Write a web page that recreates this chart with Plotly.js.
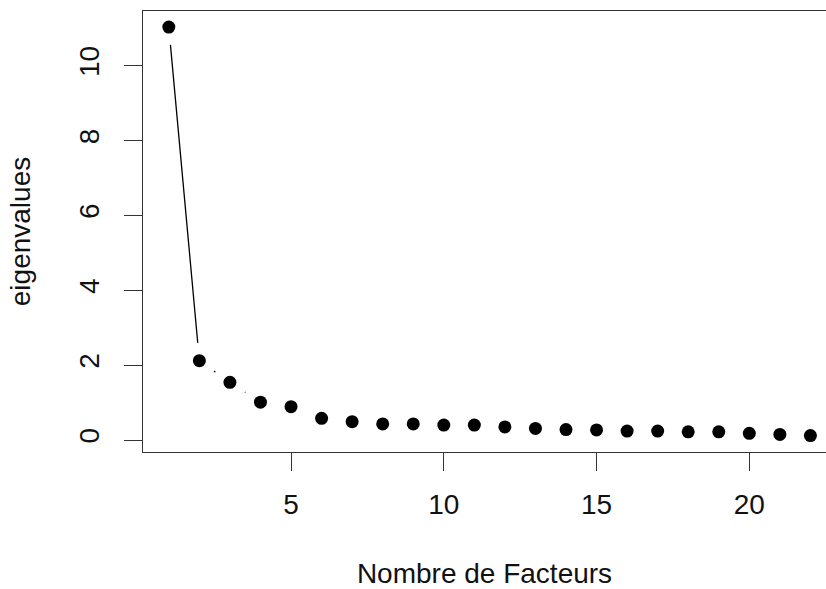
<!DOCTYPE html>
<html><head><meta charset="utf-8">
<script src="https://cdn.plot.ly/plotly-3.0.1.min.js"></script>
<style>body{margin:0;background:#fff}#chart{width:826px;height:589px}</style>
</head><body><div id="chart"></div>
<script>
const factors = [1,2,3,4,5,6,7,8,9,10,11,12,13,14,15,16,17,18,19,20,21,22];
const eigenvalues = [11.03,2.12,1.54,1.01,0.89,0.58,0.49,0.43,0.43,0.40,0.40,0.35,0.31,0.28,0.27,0.24,0.24,0.22,0.22,0.18,0.15,0.12];
const xTicks = [5,10,15,20];
const yTicks = [0,2,4,6,8,10];
const font = {family:'"Liberation Sans", Arial, sans-serif', size:28, color:'#111'};
const traces = [
  {x:factors, y:eigenvalues, mode:'lines', line:{color:'#000', width:1.3}, hoverinfo:'skip', cliponaxis:false},
  {x:factors, y:eigenvalues, mode:'markers', marker:{color:'#fff', size:36, line:{width:0}}, hoverinfo:'skip', cliponaxis:false},
  {x:factors, y:eigenvalues, mode:'markers', marker:{color:'#000', size:13, line:{width:0}}, cliponaxis:false}
];
const layout = {
  width:826, height:589, showlegend:false,
  paper_bgcolor:'#fff', plot_bgcolor:'#fff',
  margin:{l:143, r:0, t:11, b:137},
  font: font,
  xaxis:{range:[0.155,22.51], tickvals:xTicks, ticktext:xTicks.map(String), showgrid:false, zeroline:false,
    showline:true, mirror:true, linecolor:'#333', linewidth:1, ticks:'outside', ticklen:18, tickcolor:'#333',
    ticklabelstandoff:9, tickfont:font,
    title:{text:'Nombre de Facteurs', font:font, standoff:47}},
  yaxis:{range:[-0.32,11.46], tickvals:yTicks, ticktext:yTicks.map(String), showgrid:false, zeroline:false,
    showline:true, linecolor:'#333', linewidth:1, ticks:'outside', ticklen:18, tickcolor:'#333',
    tickangle:-90, ticklabelstandoff:14, tickfont:font,
    title:{text:'eigenvalues', font:font, standoff:34}}
};
Plotly.newPlot('chart', traces, layout, {displayModeBar:false, staticPlot:true});
</script></body></html>
